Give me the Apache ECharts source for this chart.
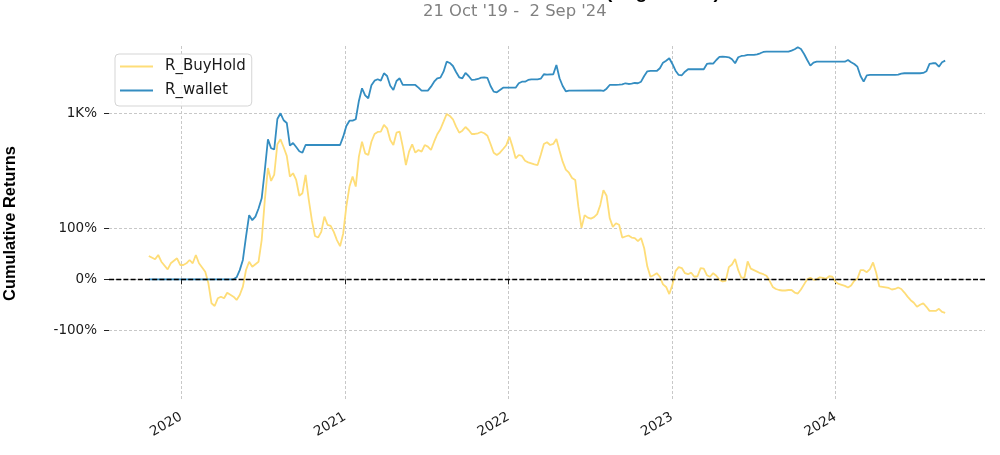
<!DOCTYPE html>
<html>
<head>
<meta charset="utf-8">
<script src="https://cdn.jsdelivr.net/npm/echarts@6/dist/echarts.min.js"></script>
<style>html,body{margin:0;padding:0;background:#fff}#chart{width:1000px;height:455px}</style>
</head>
<body>
<div id="chart"></div>
<script>
// Weekly data, x = weeks since Monday 21 Oct 2019; values = cumulative return in %
const startDate = '2019-10-21';
const endDate = '2024-09-02';
const bhWeeks = [0,2,3,4,6,7,9,10,11,12,13,14,15,16,18,19,20,21,22,23,24,25,27,28,29,30,31,32,33,35,36,37,38,39,40,41,42,43,44,45,46,47,48,49,50,51,52,53,54,55,56,57,58,59,60,61,62,63,64,65,66,67,68,69,70,71,72,73,74,75,76,77,78,79,80,81,82,83,84,85,86,87,88,89,90,91,92,93,94,95,96,97,98,99,100,101,102,103,104,105,106,107,108,109,110,111,112,113,114,115,116,117,118,119,120,121,122,123,124,125,126,127,128,129,130,131,132,133,134,135,136,137,138,139,140,141,142,143,144,145,146,147,148,149,150,151,152,153,154,155,156,157,158,159,160,161,162,163,164,165,166,167,168,169,170,171,172,173,174,175,176,177,178,179,180,181,182,183,184,185,186,187,188,189,190,191,192,193,194,195,196,197,198,199,200,201,202,203,204,205,206,207,208,209,210,211,212,213,214,215,216,217,218,219,220,221,222,223,224,225,226,227,228,229,230,231,232,233,234,235,236,237,238,239,240,241,242,243,244,245,246,247,248,249,250,251,252,253,254];
const bhReturns = [45.7,39.3,47.7,34.5,19.6,31.4,41.2,28.1,28.1,31.4,37.9,31.4,47.7,31.4,14.9,-7.9,-47.1,-52.4,-37.3,-34.2,-37.3,-26.3,-34.2,-40.6,-30.8,-14.5,18.3,34.5,24.7,34.5,77,156,253,193,215,460,520,426,343,204,222,195,164,169,213,157,116,85,82,93,123,107,105,93,77,65,90,143,182,204,182,337,490,366,351,490,595,626,631,746,687,512,451,615,631,433,273,382,460,372,398,382,451,433,398,490,591,670,810,983,935,861,715,615,647,709,658,595,595,606,626,606,570,463,372,351,372,408,448,556,433,323,351,343,304,292,285,278,273,351,463,483,451,463,525,391,297,243,225,199,195,143,101,126,121,119,122,128,146,175,164,120,103,110,107,82,84,86,82,81,75,81,61,25,5,8,12,5,-10,-15,-29,-11,16,24,22,12,10,13,5,6,22,21,8,5,12,7,-1,-4,-3,24,29,40,18,3,4,35,21,18,15,12,10,7,-3,-15,-19,-21,-22,-22,-21,-21,-26,-28,-20,-10,0,3,-1,0,4,3,1,6,5,-5,-9,-11,-13,-16,-12,-3,1,18,18,14,20,33,13,-14,-15,-16,-17,-20,-19,-16,-19,-26,-34,-41,-46,-54,-50,-47,-54,-62,-62,-62,-58,-64,-66];
const walletWeeks = [0,27,28,29,30,31,32,33,34,35,36,37,38,39,40,41,42,43,44,45,46,47,48,49,50,61,62,63,64,65,66,67,68,69,70,71,72,73,74,75,76,77,78,79,80,81,85,86,87,89,90,91,92,93,94,95,96,97,98,99,100,101,102,103,104,105,106,107,108,109,110,111,112,113,117,118,119,120,121,122,124,125,126,127,129,130,131,132,133,134,144,145,146,147,149,150,151,152,153,154,155,156,157,158,159,160,162,163,164,165,166,167,168,169,170,171,172,177,178,179,180,181,182,183,184,185,186,187,188,189,190,191,193,194,195,196,197,204,205,206,207,208,209,210,211,212,213,222,223,224,225,226,227,228,229,230,238,239,240,241,246,247,248,249,250,251,252,253,254];
const walletReturns = [0,0,4,18,38,84,126,116,123,139,159,241,521,416,405,867,1000,840,784,444,474,429,386,372,451,451,556,727,831,831,861,1363,1875,1572,1459,2022,2270,2350,2270,2733,2553,2001,1797,2252,2410,2037,2037,1904,1765,1765,1952,2212,2410,2446,2844,3656,3539,3281,2822,2471,2410,2753,2553,2310,2330,2368,2446,2471,2428,1986,1721,1696,1797,1904,1904,2126,2212,2212,2310,2350,2350,2386,2665,2638,2665,3366,2410,1986,1738,1765,1780,1752,1856,2037,2037,2053,2073,2126,2088,2105,2141,2126,2212,2553,2873,2895,2895,3098,3565,3749,3981,3452,2917,2618,2598,2844,3022,3022,3452,3512,3482,3815,4114,4145,4114,4083,3882,3512,4083,4218,4250,4326,4326,4402,4514,4664,4700,4700,4819,4991,5248,5030,4437,3815,3307,3565,3656,3656,3815,3601,3452,3225,2553,2212,2598,2618,2618,2638,2705,2733,2733,2753,2873,3452,3512,3512,3225,3601,3749];
const yTickValues = [-100, 0, 100, 1000];
const yTickLabels = ['-100%', '0%', '100%', '1K%'];
const xTickYears = [2020, 2021, 2022, 2023, 2024];
const seriesNames = ['R_BuyHold', 'R_wallet'];

const DAY = 86400000;
const t0 = Date.parse(startDate + 'T00:00:00Z');
const t1 = Date.parse(endDate + 'T00:00:00Z');
const pad = (t1 - t0) * 0.05;
// matplotlib symlog (base 10, linthresh 2, linscale 1) on fractional returns
function symlog(pct) {
  const x = pct / 100, a = Math.abs(x), lt = 2, ls = 1 / (1 - 1 / 10);
  return a <= lt ? x * ls : Math.sign(x) * lt * (ls + Math.log10(a / lt));
}
const toPts = (weeks, vals) => weeks.map((w, i) => [t0 + w * 7 * DAY, symlog(vals[i])]);
const yTickPos = yTickValues.map(symlog);
const xTickPos = xTickYears.map(y => Date.UTC(y, 0, 1));

const chart = echarts.init(document.getElementById('chart'), null, {renderer: 'canvas'});
chart.setOption({
  animation: false,
  backgroundColor: '#ffffff',
  title: [
    {text: 'Cumulative Returns vs Benchmark (Log Scaled)', left: 286, top: -17, padding: 0,
     textStyle: {fontFamily: 'Liberation Sans', fontWeight: 'bold', fontSize: 19, color: '#000'}},
    {text: "21 Oct '19 -  2 Sep '24", left: 423, top: 4, padding: 0,
     textStyle: {fontFamily: 'DejaVu Sans', fontWeight: 'normal', fontSize: 16.4, color: '#808080'}}
  ],
  legend: {
    data: seriesNames, orient: 'vertical', left: 115, top: 54,
    icon: 'rect', itemWidth: 33, itemHeight: 2, itemGap: 9,
    padding: [5, 6, 8, 5],
    borderColor: '#d5d5d5', borderWidth: 1, borderRadius: 4,
    backgroundColor: 'rgba(255,255,255,0.85)',
    textStyle: {fontFamily: 'DejaVu Sans', fontSize: 15, color: '#1a1a1a', padding: [0, 0, 0, 7]}
  },
  grid: {left: 109, right: 15, top: 46, bottom: 54, containLabel: false, outerBoundsMode: 'none'},
  xAxis: {
    type: 'value', min: t0 - pad, max: t1 + pad,
    axisLine: {show: false},
    axisTick: {show: true, length: 5, lineStyle: {color: '#222', width: 1}, customValues: xTickPos},
    axisLabel: {customValues: xTickPos, rotate: 30, margin: 15,
      fontFamily: 'DejaVu Sans', fontSize: 13.5, color: '#1a1a1a',
      formatter: v => String(new Date(v).getUTCFullYear())},
    splitLine: {show: true, lineStyle: {color: '#c8c8c8', width: 1, type: [3, 2]}}
  },
  yAxis: {
    type: 'value', min: -2.654, max: 5.088,
    name: 'Cumulative Returns', nameLocation: 'middle', nameGap: 91,
    nameTextStyle: {fontFamily: 'Liberation Sans', fontWeight: 'bold', fontSize: 16.4, color: '#000'},
    axisLine: {show: false},
    axisTick: {show: true, length: 5, lineStyle: {color: '#222', width: 1}, customValues: yTickPos},
    axisLabel: {customValues: yTickPos, margin: 12, fontFamily: 'DejaVu Sans', fontSize: 13.5, color: '#1a1a1a',
      formatter: v => { let k = 0; yTickPos.forEach((p, i) => { if (Math.abs(p - v) < Math.abs(yTickPos[k] - v)) k = i; }); return yTickLabels[k]; }},
    splitLine: {show: true, lineStyle: {color: '#c8c8c8', width: 1, type: [3, 2]}}
  },
  series: [
    {name: seriesNames[0], type: 'line', data: toPts(bhWeeks, bhReturns), symbol: 'none', showSymbol: false,
     lineStyle: {color: '#fedd78', width: 1.8}, itemStyle: {color: '#fedd78'}, z: 2},
    {name: seriesNames[1], type: 'line', data: toPts(walletWeeks, walletReturns), symbol: 'none', showSymbol: false,
     lineStyle: {color: '#348dc1', width: 1.8}, itemStyle: {color: '#348dc1'}, z: 3,
     markLine: {silent: true, symbol: 'none', label: {show: false}, z: 10,
       lineStyle: {color: '#000', width: 1.4, type: [5, 2.2]}, data: [{yAxis: symlog(0)}]}}
  ]
});
</script>
</body>
</html>
